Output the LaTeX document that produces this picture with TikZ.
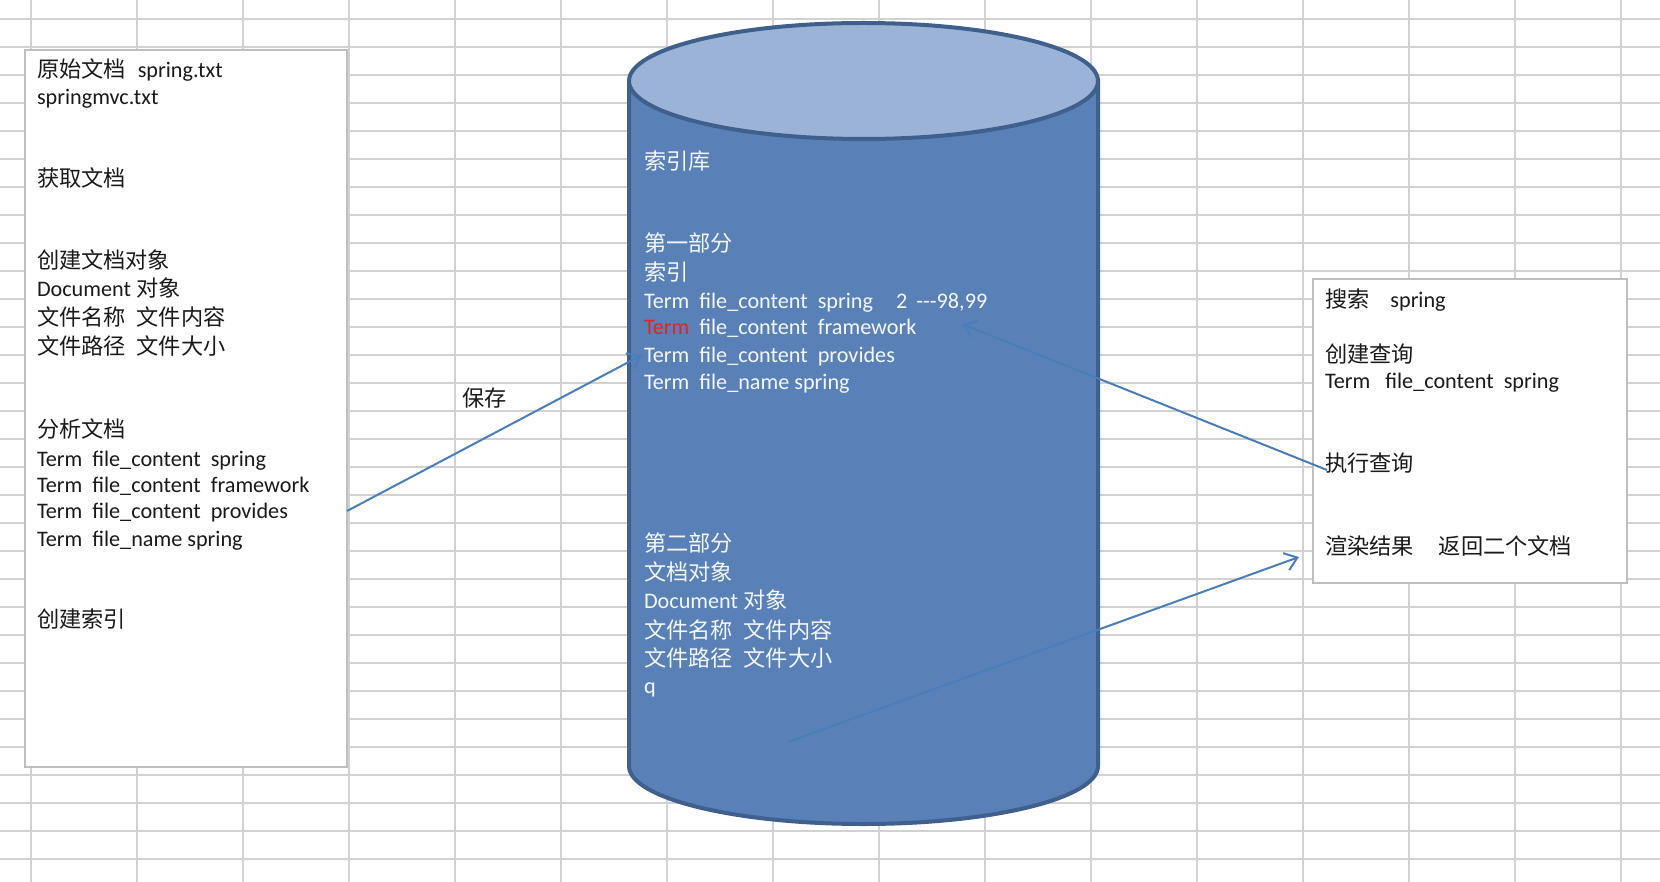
\documentclass[tikz,border=0pt]{standalone}
\usepackage{fontspec}
\setmainfont{Carlito}
\newfontfamily\cjk{Noto Sans CJK SC}
\usetikzlibrary{arrows.meta}
\newlength\pxu
\setlength\pxu{0.5pt}
\newcommand\gap[1]{\hspace*{#1\pxu}}
\definecolor{gridc}{HTML}{D2D2D2}
\definecolor{boxgray}{HTML}{BFBFBF}
\definecolor{cylfill}{HTML}{5981B8}
\definecolor{cyltopc}{HTML}{9AB3D6}
\definecolor{cylline}{HTML}{3F5F8C}
\definecolor{connc}{HTML}{4A7EBB}
\definecolor{termred}{HTML}{E52222}
\definecolor{ink}{HTML}{1A1A1A}
\definecolor{wink}{HTML}{F4F6FA}
\begin{document}
\begin{tikzpicture}[x=0.5pt,y=-0.5pt,
  gridline/.style={draw=gridc,line width=0.8pt},
  panel/.style={draw=boxgray,line width=1.1pt,fill=white,inner sep=0pt,outer sep=0pt},
  cylbody/.style={fill=cylfill,draw=cylline,line width=2pt,line join=round},
  cyltop/.style={fill=cyltopc,draw=cylline,line width=2pt},
  txt/.style={anchor=base west,inner sep=0pt,outer sep=0pt,font=\fontsize{11.1pt}{13pt}\selectfont,text=ink},
  wtxt/.style={txt,text=wink},
  conn/.style={draw=connc,line width=1pt,-{Straight Barb[length=6pt,width=9pt]}}]
\useasboundingbox (0,0) rectangle (1660,882);
\fill[white] (0,0) rectangle (1660,882);
% spreadsheet grid
\foreach \k in {0,...,15} \draw[gridline] ({31+106*\k},0) -- ({31+106*\k},882);
\foreach \k in {0,...,31} \draw[gridline] (0,{19+28*\k}) -- (1660,{19+28*\k});
% text boxes
\node[panel,minimum width=161pt,minimum height=358.5pt] (lbox) at (186,408.5) {};
\node[panel,minimum width=157pt,minimum height=152pt] (rbox) at (1470,431) {};
% cylinder (index store)
\path[cylbody] (629,81) -- (629,766) arc[start angle=180,end angle=360,x radius=117.25pt,y radius=29pt] -- (1098,81) -- cycle;
\path[cyltop] (863.5,81) ellipse [x radius=117.25pt,y radius=29pt];
% left box texts
\node[txt] (l1) at (37,78) {{\cjk 原始文档}\gap{12}spring.txt};
\node[txt] (l2) at (37,105) {springmvc.txt};
\node[txt] (l3) at (37,187) {\cjk 获取文档};
\node[txt] (l4) at (37,269) {\cjk 创建文档对象};
\node[txt] (l5) at (37,297) {Document {\cjk 对象}};
\node[txt] (l6) at (37,326) {\cjk 文件名称\gap{11}文件内容};
\node[txt] (l7) at (37,355) {\cjk 文件路径\gap{11}文件大小};
\node[txt] (l8) at (37,437) {\cjk 分析文档};
\node[txt] (l9) at (37,466) {Term\gap{10}file\_content\gap{10}spring};
\node[txt] (l10) at (37,492) {Term\gap{10}file\_content\gap{10}framework};
\node[txt] (l11) at (37,518) {Term\gap{10}file\_content\gap{10}provides};
\node[txt] (l12) at (37,546) {Term\gap{10}file\_name spring};
\node[txt] (l13) at (37,627) {\cjk 创建索引};
% label
\node[txt] (save) at (462,406) {\cjk 保存};
% cylinder texts
\node[wtxt] (m1) at (644,170) {\cjk 索引库};
\node[wtxt] (m2) at (644,252) {\cjk 第一部分};
\node[wtxt] (m3) at (644,281) {\cjk 索引};
\node[wtxt] (m4) at (644,308) {Term\gap{10}file\_content\gap{10}spring\gap{23}2\gap{9}-{}-{}-98,99};
\node[wtxt] (m5) at (644,335) {{\color{termred}Term}\gap{10}file\_content\gap{10}framework};
\node[wtxt] (m6) at (644,362) {Term\gap{10}file\_content\gap{10}provides};
\node[wtxt] (m7) at (644,389) {Term\gap{10}file\_name spring};
\node[wtxt] (m8) at (644,551) {\cjk 第二部分};
\node[wtxt] (m9) at (644,580) {\cjk 文档对象};
\node[wtxt] (m10) at (644,608) {Document {\cjk 对象}};
\node[wtxt] (m11) at (644,638) {\cjk 文件名称\gap{11}文件内容};
\node[wtxt] (m12) at (644,666) {\cjk 文件路径\gap{11}文件大小};
\node[wtxt] (m13) at (644,693) {q};
% right box texts
\node[txt] (r1) at (1325,307) {{\cjk 搜索}\gap{21}spring};
\node[txt] (r2) at (1325,362) {\cjk 创建查询};
\node[txt] (r3) at (1325,388) {Term\gap{15}file\_content\gap{10}spring};
\node[txt] (r4) at (1325,471) {\cjk 执行查询};
\node[txt] (r5) at (1325,554) {\cjk 渲染结果\gap{25}返回二个文档};
% connectors
\coordinate (c1s) at (347,511);
\coordinate (c1e) at (642,355);
\coordinate (c2s) at (1327,470);
\coordinate (c2e) at (962,324);
\coordinate (c3s) at (788,742);
\coordinate (c3e) at (1299,557);
\draw[conn] (c1s) -- (c1e);
\draw[conn] (c2s) -- (c2e);
\draw[conn] (c3s) -- (c3e);
\end{tikzpicture}
\end{document}
